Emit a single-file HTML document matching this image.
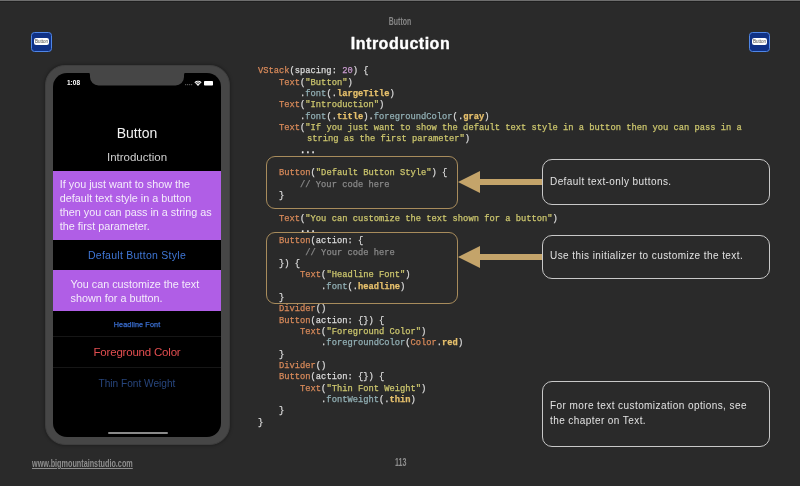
<!DOCTYPE html>
<html><head><meta charset="utf-8">
<style>
*{margin:0;padding:0;box-sizing:border-box}
html,body{width:800px;height:486px;overflow:hidden;background:#2a2a2a;font-family:"Liberation Sans",sans-serif}
body{will-change:transform}
.abs{position:absolute}
#topline{left:0;top:0;width:800px;height:1px;background:#6e6e6e}
#topline2{left:0;top:1px;width:800px;height:1px;background:#1f1f1f}
.icon{width:20.6px;height:20.6px;background:#0f3186;border:1.2px solid #4f86e6;border-radius:3.5px}
.icon .pill{position:absolute;left:1.8px;top:5.5px;width:15.2px;height:6.6px;background:#fff;border-radius:2.2px;font-size:4.5px;line-height:7.4px;color:#444;text-align:center}
#hdr{left:0;width:800px;top:14.8px;text-align:center;color:#878787;font-size:11px;line-height:12.64px;font-weight:bold;transform:scaleX(0.63)}
#title{left:0.5px;width:800px;top:35px;text-align:center;color:#fff;font-size:16px;line-height:18px;font-weight:bold;letter-spacing:0.5px;-webkit-text-stroke:0.35px #fff}
#phone{left:45px;top:65px;width:184.5px;height:380px;background:#464646;border:1.5px solid #3e3e3e;border-radius:20px;box-shadow:0 0 3px 1px rgba(0,0,0,0.25)}
#screen{left:53px;top:73px;width:168px;height:363.5px;background:#000;border-radius:14px;overflow:hidden}
#notch{left:37px;top:-1px;width:94px;height:13.5px;background:#464646;border-radius:0 0 9px 9px}
.ptxt{position:absolute;left:0;width:168px;text-align:center;white-space:nowrap}
.purple{position:absolute;left:0;width:168px;background:#b05ee6;color:#f4ecfb}
.divider{position:absolute;left:0;width:168px;height:1px;background:#161616}
#code{left:257.5px;top:65.4px;font-family:"Liberation Mono",monospace;font-size:9.6px;line-height:11.33px;transform-origin:0 0;transform:scaleX(0.9135);-webkit-text-stroke:0.25px;color:#dcdcdc;white-space:pre}
.k{color:#d88a5a}
.s{color:#cdc76e}
.n{color:#c99bcf}
.f{color:#93b1b6}
.p{color:#e6c06c;font-weight:bold}
.c{color:#8a8a8a}
.box{border:1px solid #a88c5c;border-radius:9px}
.callout{border:1px solid #c8c8c8;border-radius:10px;color:#e2e2e2;font-size:10px;letter-spacing:0.42px}
.arrow{position:absolute}
#footer{left:31.5px;top:457px;color:#8e8e8e;font-size:10.5px;font-weight:bold;text-decoration:underline;transform-origin:0 0;transform:scaleX(0.69)}
#pnum{left:394.5px;top:456.4px;color:#8e8e8e;font-size:11.5px;font-weight:bold;transform-origin:0 0;transform:scaleX(0.62)}
</style></head>
<body>
<div id="topline" class="abs"></div>
<div id="topline2" class="abs"></div>
<div class="abs icon" style="left:31px;top:31.5px"><div class="pill">Button</div></div>
<div class="abs icon" style="left:749px;top:31.5px"><div class="pill">Button</div></div>
<div id="hdr" class="abs">Button</div>
<div id="title" class="abs">Introduction</div>

<div id="phone" class="abs"></div>
<div id="screen" class="abs">
  <svg class="abs" style="left:34px;top:-1px" width="100" height="14" viewBox="0 0 100 14"><path d="M0 0 H100 Q97 0 97 3.5 V5 A8.5 8.5 0 0 1 88.5 13.5 H11.5 A8.5 8.5 0 0 1 3 5 V3.5 Q3 0 0 0 Z" fill="#464646"/></svg>
  <div class="abs" style="left:14px;top:5.6px;color:#fff;font-size:6.5px;font-weight:bold">1:08</div>
  <svg class="abs" style="left:132px;top:6px" width="30" height="8" viewBox="0 0 30 8">
    <g fill="#555"><rect x="0" y="5" width="1.2" height="1.2"/><rect x="2" y="5" width="1.2" height="1.2"/><rect x="4" y="5" width="1.2" height="1.2"/><rect x="6" y="5" width="1.2" height="1.2"/></g>
    <path d="M13 7 L9.4 3.2 A5.2 5.2 0 0 1 16.6 3.2 Z" fill="#fff"/>
    <path d="M10.4 4.1 A3.7 3.7 0 0 1 15.6 4.1" stroke="#000" stroke-width="0.6" fill="none"/>
    <path d="M11.4 5.2 A2.2 2.2 0 0 1 14.6 5.2" stroke="#000" stroke-width="0.6" fill="none"/>
    <rect x="19" y="2" width="9" height="4.5" rx="0.8" fill="#fff"/>
  </svg>
  <div class="ptxt" style="top:52px;color:#f2f2f2;font-size:14px">Button</div>
  <div class="ptxt" style="top:77.5px;color:#cfcfcf;font-size:11.5px">Introduction</div>
  <div class="purple" style="top:98.2px;height:69px;padding:7px 0 0 6.8px;font-size:10.8px;line-height:13.85px">If you just want to show the<br>default text style in a button<br>then you can pass in a string as<br>the first parameter.</div>
  <div class="ptxt" style="top:176px;color:#3f76d4;font-size:10.5px;letter-spacing:0.26px">Default Button Style</div>
  <div class="purple" style="top:197.3px;height:40.4px;padding:8.2px 0 0 17.6px;font-size:10.8px;line-height:13.85px">You can customize the text<br>shown for a button.</div>
  <div class="ptxt" style="top:247px;color:#3a6ed0;font-size:7.2px;letter-spacing:0.15px;-webkit-text-stroke:0.25px #3a6ed0">Headline Font</div>
  <div class="divider" style="top:262.5px"></div>
  <div class="ptxt" style="top:273px;color:#e24e50;font-size:11.5px;letter-spacing:-0.2px">Foreground Color</div>
  <div class="divider" style="top:293.5px"></div>
  <div class="ptxt" style="top:303.6px;color:#27457c;font-size:11.5px;transform:scaleX(0.88)">Thin Font Weight</div>
  <div class="abs" style="left:54.5px;top:359px;width:60px;height:2px;border-radius:1px;background:#8a8a8a"></div>
</div>

<div id="code" class="abs"><span class="k">VStack</span>(spacing: <span class="n">20</span>) {
    <span class="k">Text</span>(<span class="s">"Button"</span>)
        .<span class="f">font</span>(.<span class="p">largeTitle</span>)
    <span class="k">Text</span>(<span class="s">"Introduction"</span>)
        .<span class="f">font</span>(.<span class="p">title</span>).<span class="f">foregroundColor</span>(.<span class="p">gray</span>)
    <span class="k">Text</span>(<span class="s">"If you just want to show the default text style in a button then you can pass in a</span>
         <span class="s" style="margin-left:1.7px">string as the first parameter"</span>)
        <b style="color:#f0f0f0">...</b>

    <span class="k">Button</span>(<span class="s">"Default Button Style"</span>) {
        <span class="c">// Your code here</span>
    }

    <span class="k">Text</span>(<span class="s">"You can customize the text shown for a button"</span>)
        <b style="color:#f0f0f0">...</b>
    <span class="k">Button</span>(action: {
         <span class="c">// Your code here</span>
    }) {
        <span class="k">Text</span>(<span class="s">"Headline Font"</span>)
            .<span class="f">font</span>(.<span class="p">headline</span>)
    }
    <span class="k">Divider</span>()
    <span class="k">Button</span>(action: {}) {
        <span class="k">Text</span>(<span class="s">"Foreground Color"</span>)
            .<span class="f">foregroundColor</span>(<span class="k">Color</span>.<span class="p">red</span>)
    }
    <span class="k">Divider</span>()
    <span class="k">Button</span>(action: {}) {
        <span class="k">Text</span>(<span class="s">"Thin Font Weight"</span>)
            .<span class="f">fontWeight</span>(.<span class="p">thin</span>)
    }
}</div>

<div class="abs box" style="left:265.5px;top:156px;width:192.5px;height:52.5px"></div>
<div class="abs box" style="left:265.5px;top:231.5px;width:192.5px;height:72px"></div>

<svg class="arrow" style="left:455px;top:168px" width="90" height="28" viewBox="0 0 90 28">
  <polygon points="3,14 25,3 25,11 88,11 88,17 25,17 25,25" fill="#c4a46a"/>
</svg>
<svg class="arrow" style="left:455px;top:243px" width="90" height="28" viewBox="0 0 90 28">
  <polygon points="3,14 25,3 25,11 88,11 88,17 25,17 25,25" fill="#c4a46a"/>
</svg>

<div class="abs callout" style="left:542px;top:159px;width:228px;height:46px;background:#2a2a2a"><div class="abs" style="left:7px;top:16px">Default text-only buttons.</div></div>
<div class="abs callout" style="left:542px;top:234.5px;width:228px;height:44.5px;background:#2a2a2a"><div class="abs" style="left:7px;top:14.5px">Use this initializer to customize the text.</div></div>
<div class="abs callout" style="left:542px;top:380.5px;width:228px;height:66.5px;background:#2a2a2a"><div class="abs" style="left:7px;top:17.4px;line-height:14.9px">For more text customization options, see<br>the chapter on Text.</div></div>

<div id="footer" class="abs">www.bigmountainstudio.com</div>
<div id="pnum" class="abs">113</div>
</body></html>
